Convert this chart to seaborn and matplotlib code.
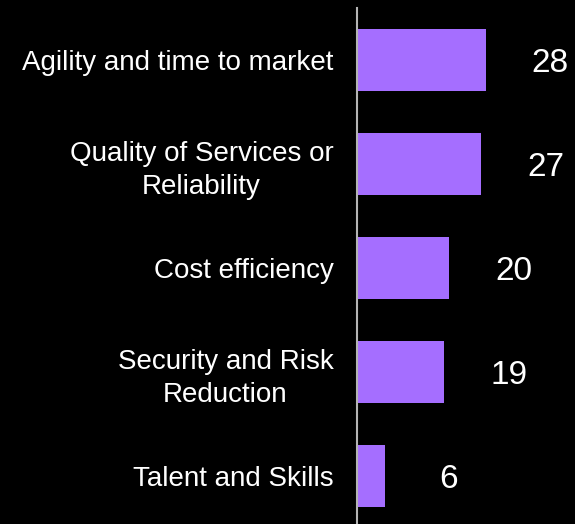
import pandas as pd
import seaborn as sns
import matplotlib
matplotlib.use("Agg", force=True)
import matplotlib.pyplot as plt

categories = [
    "Agility and time to market",
    "Quality of Services or\nReliability",
    "Cost efficiency",
    "Security and Risk\nReduction",
    "Talent and Skills",
]
values = [28, 27, 20, 19, 6]

df = pd.DataFrame({"category": categories, "value": values})

sns.set_theme(style="white")
plt.rcParams["font.family"] = ["Liberation Sans", "DejaVu Sans"]

fig = plt.figure(figsize=(5.75, 5.24), dpi=100, facecolor="black")
ax = fig.add_axes([357 / 575, 0, 218 / 575, 516 / 524])
ax.set_facecolor("black")

sns.barplot(data=df, y="category", x="value", orient="h", color="#a56eff",
            width=0.6, saturation=1, linewidth=0, ax=ax)

ax.set_xlim(0, 218 / 4.6)
ax.set_ylim(4 + 48 / 104, -0.5)
for s in ["top", "right", "bottom"]:
    ax.spines[s].set_visible(False)
ax.spines["left"].set_color("#b4b4b4")
ax.spines["left"].set_linewidth(1.5)
ax.set_xticks([])
ax.set_xlabel("")
ax.set_ylabel("")
ax.tick_params(axis="y", length=0, pad=17, labelsize=20, labelcolor="white")
for lbl in ax.get_yticklabels():
    lbl.set_multialignment("center")
    lbl.set_linespacing(1.35)

for i, v in enumerate(values):
    ax.text(v + 14, i, str(v), color="white", fontsize=24, ha="center", va="center_baseline")

fig.savefig("out.png", dpi=100, facecolor="black")
